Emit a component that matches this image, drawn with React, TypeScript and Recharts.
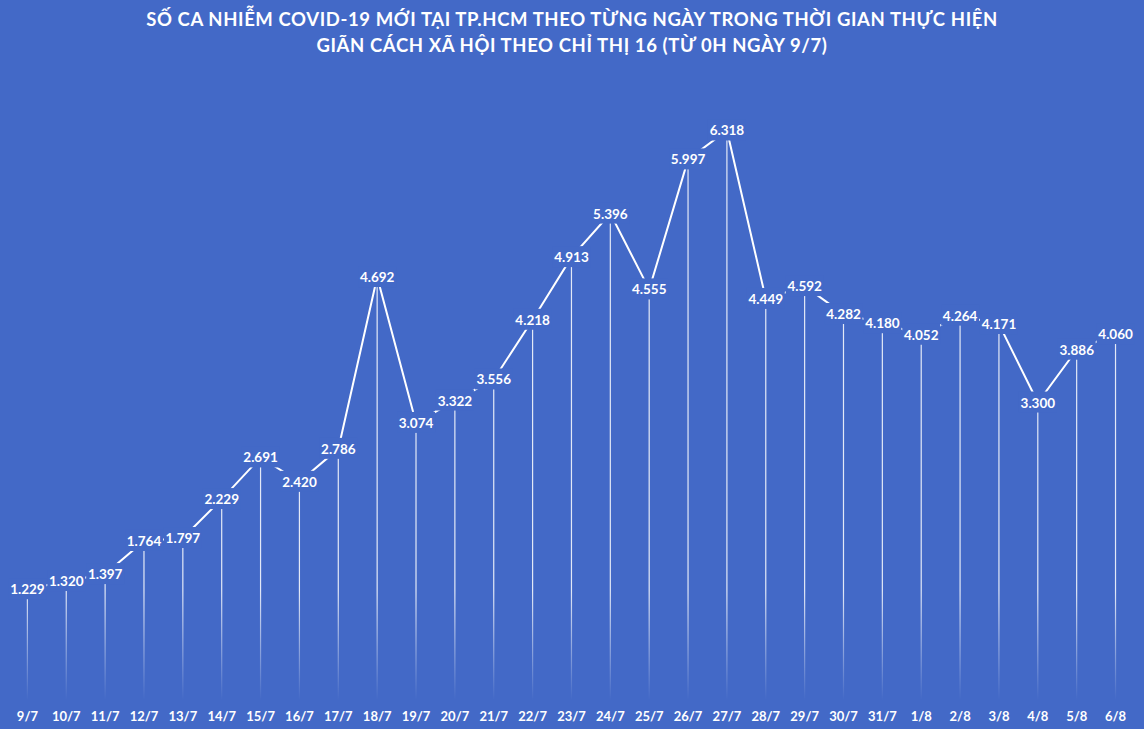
import React from 'react';
import { ComposedChart, Bar, Line, XAxis, YAxis, LabelList } from 'recharts';

const days = ['9/7','10/7','11/7','12/7','13/7','14/7','15/7','16/7','17/7','18/7','19/7','20/7','21/7','22/7','23/7','24/7','25/7','26/7','27/7','28/7','29/7','30/7','31/7','1/8','2/8','3/8','4/8','5/8','6/8'];
const cases = [1229,1320,1397,1764,1797,2229,2691,2420,2786,4692,3074,3322,3556,4218,4913,5396,4555,5997,6318,4449,4592,4282,4180,4052,4264,4171,3300,3886,4060];
const titleLines = [
  'SỐ CA NHIỄM COVID-19 MỚI TẠI TP.HCM THEO TỪNG NGÀY TRONG THỜI GIAN THỰC HIỆN',
  'GIÃN CÁCH XÃ HỘI THEO CHỈ THỊ 16 (TỪ 0H NGÀY 9/7)',
];

const data = days.map((d, i) => ({ d, v: cases[i] }));

const BG = '#4369c7';
const FONT = 'Lato, "Open Sans", sans-serif';

const fmt = (v: number) => Math.floor(v / 1000) + '.' + String(v % 1000).padStart(3, '0');

const DropLine = (props: any) => {
  const { x, y, width, height, index } = props;
  const cx = x + width / 2;
  const bottom = y + height;
  const id = `dg${index}`;
  return (
    <g>
      <defs>
        <linearGradient id={id} gradientUnits="userSpaceOnUse" x1={0} y1={bottom - 110} x2={0} y2={bottom}>
          <stop offset="0" stopColor="#ffffff" stopOpacity={0.85} />
          <stop offset="1" stopColor="#ffffff" stopOpacity={0} />
        </linearGradient>
      </defs>
      <rect x={cx - 0.6} y={y} width={1.2} height={height} fill={`url(#${id})`} />
    </g>
  );
};

const ValueLabel = (props: any) => {
  const { x, y, value } = props;
  return (
    <g>
      <rect x={x - 19} y={y - 11} width={38} height={21} fill={BG} />
      <text x={x} y={y} textAnchor="middle" dominantBaseline="central" fill="#ffffff"
        style={{ fontFamily: FONT, fontWeight: 700, fontSize: 13.5 }}>
        {fmt(value)}
      </text>
    </g>
  );
};

export default function App() {
  return (
    <div style={{ position: 'absolute', left: 0, top: 0, width: 1144, height: 729, background: BG }}>
      <div style={{ position: 'absolute', left: 0, top: 6, width: 1144, textAlign: 'center', color: '#fff',
        fontFamily: FONT, fontWeight: 700, fontSize: 18.5, letterSpacing: 0.6, lineHeight: '26px' }}>
        <div>{titleLines[0]}</div>
        <div>{titleLines[1]}</div>
      </div>
      <ComposedChart width={1144} height={729} data={data} margin={{ top: 69, right: 9, left: 8, bottom: 0 }}>
        <XAxis dataKey="d" axisLine={false} tickLine={false} interval={0} height={29}
          tick={{ fill: '#ffffff', fontFamily: FONT, fontWeight: 700, fontSize: 13 }} tickMargin={6} />
        <YAxis hide domain={[0, 7000]} />
        <Bar dataKey="v" shape={<DropLine />} isAnimationActive={false} />
        <Line dataKey="v" type="linear" stroke="#ffffff" strokeWidth={2} dot={false} isAnimationActive={false}>
          <LabelList dataKey="v" content={<ValueLabel />} />
        </Line>
      </ComposedChart>
    </div>
  );
}
